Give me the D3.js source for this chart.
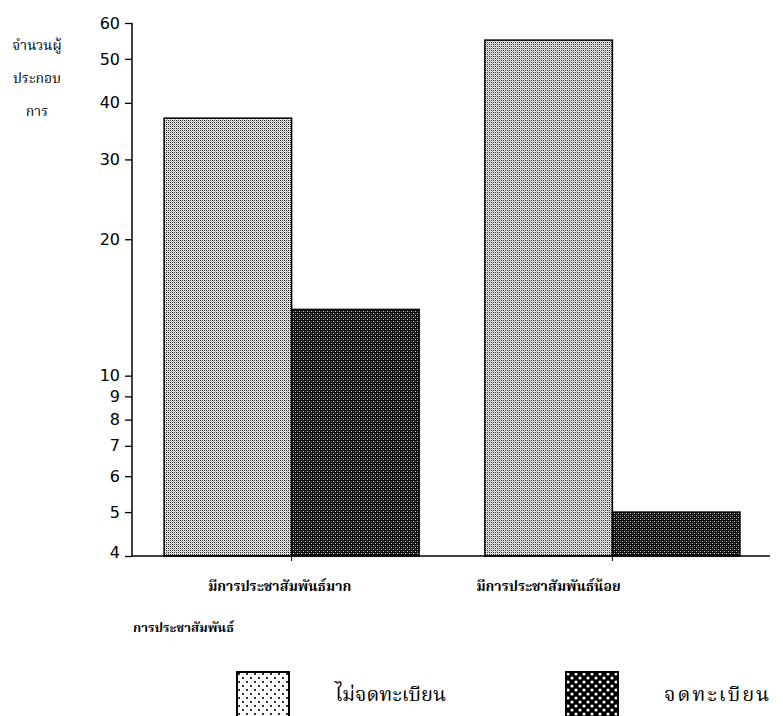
<!DOCTYPE html>
<html><head><meta charset="utf-8">
<script src="https://cdn.jsdelivr.net/npm/d3@7"></script>
<style>
body{margin:0;background:#fff;}
svg{display:block;}
.thai{font-family:"Noto Serif Thai","Norasi","Noto Sans Thai","Garuda","Loma",serif;fill:#000;}
</style></head>
<body><svg id="c" width="783" height="716"></svg>
<script>
const categories = ["มีการประชาสัมพันธ์มาก", "มีการประชาสัมพันธ์น้อย"];
const seriesNames = ["ไม่จดทะเบียน", "จดทะเบียน"];
const notRegistered = [37, 55];
const registered = [14, 5];
const yTicks = [4, 5, 6, 7, 8, 9, 10, 20, 30, 40, 50, 60];
const yTitle = ["จำนวนผู้", "ประกอบ", "การ"];
const xTitle = "การประชาสัมพันธ์";

const svg = d3.select("#c");
const defs = svg.append("defs");

// light bar pattern
let p = defs.append("pattern").attr("id","pLight").attr("width",4).attr("height",4).attr("patternUnits","userSpaceOnUse");
p.append("rect").attr("width",4).attr("height",4).attr("fill","#fff");
[[0,0,"#000"],[2,2,"#000"],[2,0,"#222"],[0,2,"#222"],[1,1,"#999"],[3,3,"#999"],[1,3,"#ccc"],[3,1,"#ccc"]].forEach(d=>p.append("rect").attr("x",d[0]).attr("y",d[1]).attr("width",1).attr("height",1).attr("fill",d[2]));
// dark bar pattern
p = defs.append("pattern").attr("id","pDark").attr("width",4).attr("height",4).attr("patternUnits","userSpaceOnUse");
p.append("rect").attr("width",4).attr("height",4).attr("fill","#050505");
[[1,1,"#fff"],[3,3,"#ddd"],[3,1,"#555"],[1,3,"#555"]].forEach(d=>p.append("rect").attr("x",d[0]).attr("y",d[1]).attr("width",1).attr("height",1).attr("fill",d[2]));
// legend patterns
p = defs.append("pattern").attr("id","lLight").attr("width",8).attr("height",8).attr("patternUnits","userSpaceOnUse");
p.append("rect").attr("width",8).attr("height",8).attr("fill","#fff");
p.append("circle").attr("cx",2).attr("cy",2).attr("r",1.1).attr("fill","#000");
p.append("circle").attr("cx",6).attr("cy",6).attr("r",1.1).attr("fill","#000");
p = defs.append("pattern").attr("id","lDark").attr("width",8).attr("height",8).attr("patternUnits","userSpaceOnUse");
p.append("rect").attr("width",8).attr("height",8).attr("fill","#000");
p.append("circle").attr("cx",2).attr("cy",2).attr("r",1.6).attr("fill","#fff");
p.append("circle").attr("cx",6).attr("cy",6).attr("r",1.6).attr("fill","#fff");

const fills = ["url(#pLight)", "url(#pDark)"];
const legendFills = ["url(#lLight)", "url(#lDark)"];

const y = d3.scaleLog().domain([4, 60]).range([556, 23]);
const x0 = d3.scaleBand().domain(categories).range([132, 772]).paddingInner(0.205).paddingOuter(0.1);
const x1 = d3.scaleBand().domain(seriesNames).range([0, x0.bandwidth()]);

const data = categories.map((c,i)=>({cat:c, vals:[notRegistered[i], registered[i]]}));

const g = svg.append("g").selectAll("g").data(data).join("g")
  .attr("transform", d=>`translate(${x0(d.cat)},0)`);
g.selectAll("rect").data(d=>d.vals.map((v,j)=>({v, s:seriesNames[j], j})))
  .join("rect")
  .attr("x", d=>x1(d.s)).attr("width", x1.bandwidth())
  .attr("y", d=>y(d.v)).attr("height", d=>556 - y(d.v))
  .attr("fill", d=>fills[d.j]).attr("stroke","#000").attr("stroke-width",1.5);

// y axis
const ya = svg.append("g").attr("transform","translate(132,0)")
  .call(d3.axisLeft(y).tickValues(yTicks).tickFormat(d3.format("d")).tickSize(7).tickPadding(5));
ya.select(".domain").attr("stroke","#000").attr("stroke-width",1.5).attr("d","M-0,23V556");
ya.selectAll(".tick line").attr("stroke-width",1.3);
ya.selectAll("text").attr("font-family","DejaVu Sans, Verdana, sans-serif").attr("font-size",16).attr("fill","#000");
ya.selectAll(".tick").filter(d=>d===4).select("text").attr("dy","0.1em");

// x axis
const xa = svg.append("g").attr("transform","translate(0,556)")
  .call(d3.axisBottom(x0).tickSize(5).tickFormat(""));
xa.select(".domain").attr("stroke-width",1.5).attr("d","M132,0H770");
xa.selectAll(".tick").attr("transform", d=>`translate(${x0(d)+x0.bandwidth()/2},0)`);

// category labels
const labelOffsets = [-12, -64];
svg.append("g").selectAll("text").data(categories).join("text")
  .attr("class","thai")
  .attr("x",(d,i)=>x0(d)+x0.bandwidth()/2+labelOffsets[i]).attr("y",591)
  .attr("text-anchor","middle").attr("font-size",14).attr("font-weight","bold").text(d=>d);

svg.append("text").attr("class","thai").attr("x",133).attr("y",632)
  .attr("font-size",13).attr("font-weight","bold").text(xTitle);

svg.append("g").selectAll("text").data(yTitle).join("text")
  .attr("class","thai").attr("x",37).attr("y",(d,i)=>50+i*33)
  .attr("text-anchor","middle").attr("font-size",14).text(d=>d);

// legend
const legX = [237, 566];
const lg = svg.append("g").selectAll("g").data(seriesNames).join("g")
  .attr("transform",(d,i)=>`translate(${legX[i]},672)`);
lg.append("rect").attr("width",52).attr("height",50).attr("fill",(d,i)=>legendFills[i]).attr("stroke","#000").attr("stroke-width",2);
lg.append("text").attr("class","thai").attr("x",98).attr("y",29).attr("font-size",20)
  .attr("letter-spacing",(d,i)=>i===1?2:0).text(d=>d);
</script></body></html>
